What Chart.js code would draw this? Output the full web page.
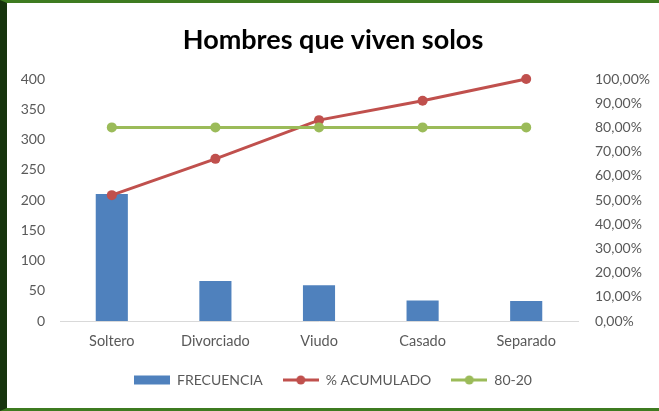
<!DOCTYPE html>
<html>
<head>
<meta charset="utf-8">
<script src="https://cdn.jsdelivr.net/npm/chart.js@4"></script>
<style>
  html, body { margin: 0; padding: 0; background: #ffffff; }
  #frame {
    position: absolute; left: 0; top: 0;
    width: 659px; height: 411px; box-sizing: border-box;
    border-top: 3px solid #3e7b20;
    border-left: 7px solid #17340d;
    border-bottom: 3px solid #3e7b20;
    background: #ffffff;
  }
  canvas { display: block; }
</style>
</head>
<body>
<div id="frame"><canvas id="c" width="652" height="405"></canvas></div>
<script>
const categories = ['Soltero', 'Divorciado', 'Viudo', 'Casado', 'Separado'];
const frecuencia = [210, 66, 59, 34, 33];
const acumulado = [0.52, 0.67, 0.83, 0.91, 1.0];
const linea8020 = [0.8, 0.8, 0.8, 0.8, 0.8];
const seriesNames = ['FRECUENCIA', '% ACUMULADO', '80-20'];
const chartTitle = 'Hombres que viven solos';

const BLUE = '#4f81bd', RED = '#c0504d', GREEN = '#9bbb59', GREY = '#595959';

function legendIcon(kind, color) {
  const cv = document.createElement('canvas');
  cv.width = 36; cv.height = 12;
  const g = cv.getContext('2d');
  if (kind === 'bar') {
    g.fillStyle = color; g.fillRect(0, 1.5, 36, 9);
  } else {
    g.strokeStyle = color; g.lineWidth = 3;
    g.beginPath(); g.moveTo(0, 6); g.lineTo(36, 6); g.stroke();
    g.fillStyle = color; g.beginPath(); g.arc(18, 6, 4.5, 0, Math.PI * 2); g.fill();
  }
  return cv;
}
const icons = [legendIcon('bar', BLUE), legendIcon('line', RED), legendIcon('line', GREEN)];

Chart.defaults.font.family = 'Lato';
Chart.defaults.color = GREY;

new Chart(document.getElementById('c'), {
  data: {
    labels: categories,
    datasets: [
      { type: 'bar', label: seriesNames[0], data: frecuencia, yAxisID: 'y',
        backgroundColor: BLUE, barPercentage: 0.31, categoryPercentage: 1, order: 2 },
      { type: 'line', label: seriesNames[1], data: acumulado, yAxisID: 'y1',
        borderColor: RED, backgroundColor: RED, borderWidth: 3,
        pointRadius: 5, pointBackgroundColor: RED, pointBorderColor: RED, pointBorderWidth: 0,
        tension: 0, order: 1, clip: false },
      { type: 'line', label: seriesNames[2], data: linea8020, yAxisID: 'y1',
        borderColor: GREEN, backgroundColor: GREEN, borderWidth: 3,
        pointRadius: 5, pointBackgroundColor: GREEN, pointBorderColor: GREEN, pointBorderWidth: 0,
        tension: 0, order: 0, clip: false }
    ]
  },
  options: {
    responsive: false,
    animation: false,
    layout: { padding: { left: 0, right: 0, top: 0, bottom: 11 } },
    plugins: {
      tooltip: { enabled: false },
      title: {
        display: true, text: chartTitle, color: '#000000',
        font: { size: 27, weight: 'bold', family: 'Lato', lineHeight: 1.2 },
        padding: { top: 21, bottom: 22.6 }
      },
      legend: {
        position: 'bottom',
        labels: {
          color: GREY, font: { size: 14 }, padding: 20,
          usePointStyle: true, pointStyleWidth: 36, boxHeight: 12,
          sort: (a, b) => a.datasetIndex - b.datasetIndex,
          generateLabels: (chart) => {
            const items = Chart.defaults.plugins.legend.labels.generateLabels(chart);
            items.forEach(it => { it.pointStyle = icons[it.datasetIndex]; it.fontColor = GREY; });
            return items;
          }
        }
      }
    },
    scales: {
      x: {
        offset: true,
        grid: { display: false, drawTicks: false },
        border: { display: true, color: '#d9d9d9', width: 1 },
        ticks: { font: { size: 14.5 }, color: GREY, padding: 12, maxRotation: 0 },
        afterFit: (s) => { s.height = 32; }
      },
      y: {
        position: 'left', min: 0, max: 400,
        grid: { display: false, drawTicks: false },
        border: { display: false },
        ticks: { stepSize: 50, font: { size: 14 }, color: GREY, padding: 15 },
        afterFit: (s) => { s.width = 53; }
      },
      y1: {
        position: 'right', min: 0, max: 1,
        grid: { display: false, drawTicks: false },
        border: { display: false },
        ticks: { stepSize: 0.1, font: { size: 14 }, color: GREY, padding: 17,
          callback: (v) => (v * 100).toFixed(2).replace('.', ',') + '%' },
        afterFit: (s) => { s.width = 81; }
      }
    }
  }
});
</script>
</body>
</html>
